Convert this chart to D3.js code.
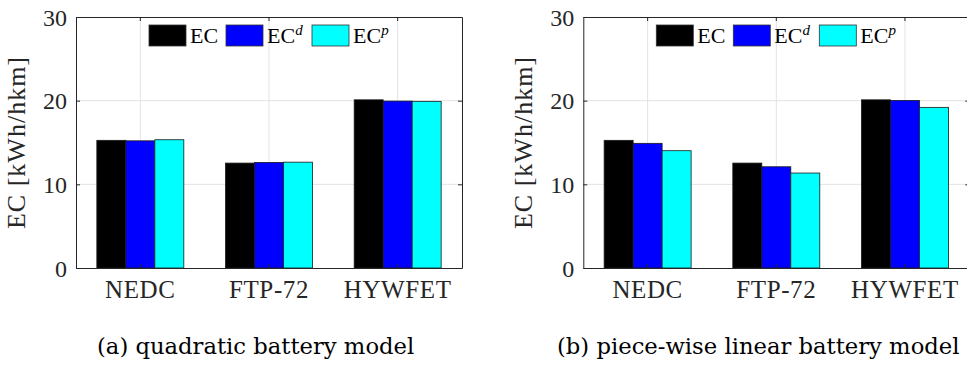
<!DOCTYPE html>
<html>
	<head>
		<title>Energy consumption per drive cycle</title>
		<script src="https://d3js.org/d3.v7.min.js"></script>
		<style>
			body { margin: 0; background: #fff; }
		</style>
	</head>
	<body>
		<script>

			// Data
			var categories = ["NEDC", "FTP-72", "HYWFET"];
			var series = ["EC", "ECd", "ECp"];
			var series_colors = ["#000000", "#0000ff", "#00ffff"];
			var y_ticks = [0, 10, 20, 30];

			// (a) quadratic battery model
			var quad_ec = [15.26, 12.54, 20.10];
			var quad_ec_d = [15.20, 12.62, 19.95];
			var quad_ec_p = [15.33, 12.65, 19.92];

			// (b) piece-wise linear battery model
			var pwl_ec = [15.26, 12.54, 20.10];
			var pwl_ec_d = [14.90, 12.10, 20.03];
			var pwl_ec_p = [14.02, 11.35, 19.20];

			var captions = ["(a) quadratic battery model", "(b) piece-wise linear battery model"];

			// layout
			var width = 967;
			var height = 365;
			var plot_w = 386;
			var plot_top = 17;
			var plot_bottom = 268;
			var axis_color = "#262626";
			var grid_color = "#e3e3e3";
			var axis_font = "Liberation Serif";

			var svg = d3.select("body").append("svg")
				.attr("width", width)
				.attr("height", height);

			// function - draw one bar panel
			function draw_panel(left, values, caption, caption_x) {
				var g = svg.append("g").attr("transform", "translate(" + left + ",0)");

				var x = d3.scaleBand().domain(categories).range([0, plot_w]).padding(0);
				var bw = x.bandwidth();
				var x1 = d3.scaleBand().domain(series).range([-0.338 * bw, 0.338 * bw]).padding(0);
				var y = d3.scaleLinear().domain([0, 30]).range([plot_bottom, plot_top]);

				// grid
				g.selectAll(".hgrid").data(y_ticks.slice(1, 3)).enter().append("line")
					.attr("x1", 0).attr("x2", plot_w)
					.attr("y1", function (d) { return y(d); })
					.attr("y2", function (d) { return y(d); })
					.attr("stroke", grid_color).attr("stroke-width", 1);
				g.selectAll(".vgrid").data(categories).enter().append("line")
					.attr("x1", function (d) { return x(d) + bw / 2; })
					.attr("x2", function (d) { return x(d) + bw / 2; })
					.attr("y1", plot_top).attr("y2", plot_bottom)
					.attr("stroke", grid_color).attr("stroke-width", 1);

				// bars
				var rows = [];
				for (var i = 0; i < categories.length; i = i + 1) {
					for (var s = 0; s < series.length; s = s + 1) {
						rows.push({ cat: categories[i], ser: series[s], color: series_colors[s], v: values[s][i] });
					}
				}
				g.selectAll(".bar").data(rows).enter().append("rect")
					.attr("x", function (d) { return x(d.cat) + bw / 2 + x1(d.ser); })
					.attr("width", x1.bandwidth())
					.attr("y", function (d) { return y(d.v); })
					.attr("height", function (d) { return y(0) - y(d.v); })
					.attr("fill", function (d) { return d.color; })
					.attr("stroke", "#1a1a1a")
					.attr("stroke-width", 0.8);

				// axes (box with inward ticks)
				var left_axis = d3.axisLeft(y).tickValues(y_ticks).tickSizeInner(-4).tickSizeOuter(0).tickPadding(9)
					.tickFormat(d3.format("d"));
				var right_axis = d3.axisRight(y).tickValues(y_ticks).tickSizeInner(-4).tickSizeOuter(0).tickFormat("");
				var bottom_axis = d3.axisBottom(x).tickSizeInner(-4).tickSizeOuter(0).tickPadding(12);
				var top_axis = d3.axisTop(x).tickSizeInner(-4).tickSizeOuter(0).tickFormat("");

				var gl = g.append("g").call(left_axis);
				gl.selectAll("text").attr("font-family", axis_font).attr("font-size", 24).attr("dy", "0.34em");
				g.append("g").attr("transform", "translate(" + plot_w + ",0)").call(right_axis);
				var gb = g.append("g").attr("transform", "translate(0," + plot_bottom + ")").call(bottom_axis);
				gb.selectAll("text").attr("font-family", axis_font).attr("font-size", 25)
					.attr("letter-spacing", 0.6).attr("dy", "0.70em");
				g.append("g").attr("transform", "translate(0," + plot_top + ")").call(top_axis);

				g.selectAll(".domain").attr("stroke", axis_color).attr("stroke-width", 1);
				g.selectAll(".tick line").attr("stroke", axis_color);
				g.selectAll(".tick text").attr("fill", axis_color);

				// y label
				g.append("text")
					.attr("transform", "translate(-51," + ((plot_top + plot_bottom) / 2) + ") rotate(-90)")
					.attr("text-anchor", "middle")
					.attr("font-family", axis_font)
					.attr("font-size", 26)
					.attr("letter-spacing", 1)
					.attr("fill", axis_color)
					.text("EC [kWh/hkm]");

				// legend
				var leg_x = [73, 150, 236];
				var sup = ["", "d", "p"];
				for (var k = 0; k < series.length; k = k + 1) {
					g.append("rect")
						.attr("x", leg_x[k]).attr("y", 25)
						.attr("width", 37).attr("height", 21)
						.attr("fill", series_colors[k])
						.attr("stroke", "#333").attr("stroke-width", 0.8);
					var t = g.append("text")
						.attr("x", leg_x[k] + 41).attr("y", 43)
						.attr("font-family", axis_font)
						.attr("font-size", 22)
						.attr("fill", "#000")
						.text("EC");
					if (sup[k]) {
						t.append("tspan")
							.attr("dy", -8)
							.attr("font-size", 15)
							.attr("font-style", "italic")
							.text(sup[k]);
					}
				}

				// caption
				svg.append("text")
					.attr("x", caption_x).attr("y", 354)
					.attr("font-family", "DejaVu Serif")
					.attr("font-size", 22.7)
					.attr("fill", "#000")
					.text(caption);
			}

			draw_panel(76, [quad_ec, quad_ec_d, quad_ec_p], captions[0], 97);
			draw_panel(583.3, [pwl_ec, pwl_ec_d, pwl_ec_p], captions[1], 557);

		</script>
	</body>
</html>
